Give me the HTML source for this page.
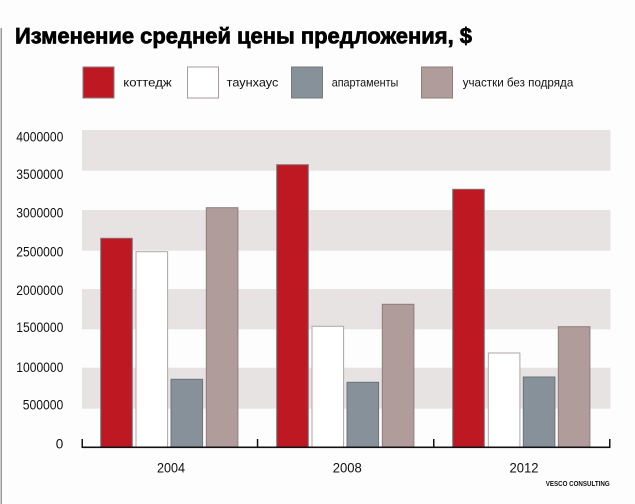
<!DOCTYPE html>
<html><head><meta charset="utf-8"><style>
html,body{margin:0;padding:0;background:#fff;}
svg{display:block;}
text{font-family:"Liberation Sans","DejaVu Sans",sans-serif;}
</style></head><body>
<svg width="635" height="504" viewBox="0 0 635 504" xmlns="http://www.w3.org/2000/svg">
<rect x="0" y="0" width="635" height="504" fill="#fdfdfd"/>
<rect x="0.5" y="28" width="1.5" height="476" fill="#9a9a9a"/>
<text x="15" y="43.3" font-size="22" font-weight="bold" fill="#000" stroke="#000" stroke-width="0.7" textLength="457" lengthAdjust="spacingAndGlyphs">Изменение средней цены предложения, $</text>

<!-- legend -->
<rect x="83" y="67" width="31" height="31" fill="#be1823" stroke="#8c7a7a" stroke-width="1"/>
<text x="123.3" y="86.5" font-size="12" fill="#111" textLength="48.4" lengthAdjust="spacingAndGlyphs">коттедж</text>
<rect x="187.5" y="67" width="31" height="31" fill="#fff" stroke="#a89b9b" stroke-width="1"/>
<text x="226.7" y="86.5" font-size="12" fill="#111" textLength="51.6" lengthAdjust="spacingAndGlyphs">таунхаус</text>
<rect x="291.5" y="67" width="31" height="31" fill="#87919a" stroke="#767b80" stroke-width="1"/>
<text x="331.7" y="86.5" font-size="12" fill="#111" textLength="66.6" lengthAdjust="spacingAndGlyphs">апартаменты</text>
<rect x="421.5" y="67" width="31" height="31" fill="#b09d9b" stroke="#8f7e7d" stroke-width="1"/>
<text x="462.7" y="86.5" font-size="12" fill="#111" textLength="110.6" lengthAdjust="spacingAndGlyphs">участки без подряда</text>

<!-- bands -->
<rect x="82" y="130" width="528.5" height="40.7" fill="#e8e3e3"/>
<rect x="82" y="210" width="528.5" height="40.7" fill="#e8e3e3"/>
<rect x="82" y="289" width="528.5" height="40.3" fill="#e8e3e3"/>
<rect x="82" y="367.7" width="528.5" height="41" fill="#e8e3e3"/>

<!-- y labels -->
<g font-size="13.5" fill="#111" text-anchor="end">
<text x="63.3" y="141.5" textLength="47" lengthAdjust="spacingAndGlyphs">4000000</text>
<text x="63.3" y="179" textLength="47" lengthAdjust="spacingAndGlyphs">3500000</text>
<text x="63.3" y="217.5" textLength="47" lengthAdjust="spacingAndGlyphs">3000000</text>
<text x="63.3" y="256.3" textLength="47" lengthAdjust="spacingAndGlyphs">2500000</text>
<text x="63.3" y="295" textLength="47" lengthAdjust="spacingAndGlyphs">2000000</text>
<text x="63.3" y="332" textLength="47" lengthAdjust="spacingAndGlyphs">1500000</text>
<text x="63.3" y="372" textLength="47" lengthAdjust="spacingAndGlyphs">1000000</text>
<text x="63.3" y="409.7" textLength="40.6" lengthAdjust="spacingAndGlyphs">500000</text>
<text x="63.3" y="448.7">0</text>
</g>

<!-- bars 2004 -->
<rect x="100.7" y="238.3" width="31.6" height="209" fill="#be1823" stroke="#8c6e70" stroke-width="1"/>
<rect x="136" y="251.7" width="31.6" height="195.6" fill="#fff" stroke="#b0a5a5" stroke-width="1"/>
<rect x="171" y="379.3" width="31.6" height="68" fill="#87919a" stroke="#6e7378" stroke-width="1"/>
<rect x="206.3" y="207.7" width="31.6" height="239.6" fill="#b09d9b" stroke="#8f7c7b" stroke-width="1"/>
<!-- bars 2008 -->
<rect x="276.7" y="164.7" width="31.6" height="282.6" fill="#be1823" stroke="#8c6e70" stroke-width="1"/>
<rect x="312" y="326.3" width="31.6" height="121" fill="#fff" stroke="#b0a5a5" stroke-width="1"/>
<rect x="347" y="382.3" width="31.6" height="65" fill="#87919a" stroke="#6e7378" stroke-width="1"/>
<rect x="382.3" y="304.3" width="31.6" height="143" fill="#b09d9b" stroke="#8f7c7b" stroke-width="1"/>
<!-- bars 2012 -->
<rect x="452.7" y="189.3" width="31.6" height="258" fill="#be1823" stroke="#8c6e70" stroke-width="1"/>
<rect x="488.3" y="353" width="31.6" height="94.3" fill="#fff" stroke="#b0a5a5" stroke-width="1"/>
<rect x="523.3" y="377" width="31.6" height="70.3" fill="#87919a" stroke="#6e7378" stroke-width="1"/>
<rect x="558.3" y="326.7" width="31.6" height="120.6" fill="#b09d9b" stroke="#8f7c7b" stroke-width="1"/>

<!-- axis -->
<rect x="82" y="446.5" width="528.5" height="1.6" fill="#111"/>
<rect x="81.5" y="439" width="1.5" height="9" fill="#111"/>
<rect x="256.8" y="439" width="1.5" height="9" fill="#111"/>
<rect x="433" y="439" width="1.5" height="9" fill="#111"/>
<rect x="609" y="439" width="1.5" height="9" fill="#111"/>

<!-- x labels -->
<g font-size="14" fill="#111" text-anchor="middle">
<text x="171" y="472.3" textLength="28" lengthAdjust="spacingAndGlyphs">2004</text>
<text x="347.3" y="472.3" textLength="29" lengthAdjust="spacingAndGlyphs">2008</text>
<text x="524" y="472.3" textLength="29" lengthAdjust="spacingAndGlyphs">2012</text>
</g>
<text x="545.7" y="486" font-size="7.5" font-weight="bold" fill="#111" textLength="64" lengthAdjust="spacingAndGlyphs">VESCO CONSULTING</text>
</svg>
</body></html>
